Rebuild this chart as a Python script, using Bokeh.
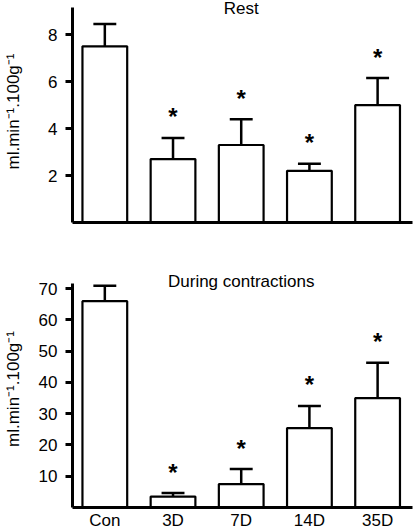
from bokeh.plotting import figure
from bokeh.models import Range1d, FixedTicker, Label
from bokeh.layouts import column
from bokeh.embed import file_html
from bokeh.resources import INLINE
from bokeh.core.properties import value

# ---- data ----
categories = ["Con", "3D", "7D", "14D", "35D"]

rest_mean = [7.5, 2.7, 3.3, 2.2, 5.0]
rest_sem = [0.95, 0.9, 1.1, 0.3, 1.15]
rest_sig = [False, True, True, True, True]
rest_ticks = [2, 4, 6, 8]

contr_mean = [66.0, 3.5, 7.5, 25.4, 35.0]
contr_sem = [4.9, 1.1, 4.8, 7.1, 11.3]
contr_sig = [False, True, True, True, True]
contr_ticks = [10, 20, 30, 40, 50, 60, 70]

y_label = "ml.min\u207b\u00b9.100g\u207b\u00b9"
FONT = "Liberation Sans"


def panel(title, means, sems, sig, ticks, y_axis_top, y_view_top, height,
          b_top, b_bottom, show_cats, ylab_standoff, title_offset):
    xs = list(range(len(categories)))
    p = figure(width=414, height=height,
               x_range=Range1d(-0.474, 4.541), y_range=Range1d(0, y_view_top),
               output_backend="svg", toolbar_location=None,
               min_border_left=70, min_border_right=0,
               min_border_top=b_top, min_border_bottom=b_bottom)
    p.xgrid.visible = False
    p.ygrid.visible = False
    p.outline_line_color = None
    p.background_fill_color = "white"
    p.border_fill_color = "white"

    tops = [m + s for m, s in zip(means, sems)]
    half_cap = 0.168
    p.vbar(x=xs, top=means, width=0.656, bottom=0,
           fill_color="white", line_color="black", line_width=2.2)
    p.segment(x0=xs, y0=means, x1=xs, y1=tops, line_color="black", line_width=2.5)
    p.segment(x0=[x - half_cap for x in xs], y0=tops,
              x1=[x + half_cap for x in xs], y1=tops,
              line_color="black", line_width=2.5)

    sx = [x for x, s in zip(xs, sig) if s]
    sy = [t for t, s in zip(tops, sig) if s]
    p.text(x=sx, y=sy, text=["*"] * len(sx), y_offset=-21,
           text_align="center", text_baseline="middle",
           text_font=value(FONT), text_font_size="24px",
           text_font_style="bold", text_color="black")

    p.add_layout(Label(x=2, y=y_axis_top, y_offset=title_offset, text=title,
                       text_align="center", text_baseline="middle",
                       text_font=FONT, text_font_size="17px",
                       text_color="black"))

    ya = p.yaxis[0]
    ya.bounds = (0, y_axis_top)
    ya.ticker = FixedTicker(ticks=ticks)
    ya.axis_line_width = 3
    ya.major_tick_line_width = 3
    ya.major_tick_out = 7
    ya.major_tick_in = 0
    ya.minor_tick_out = 0
    ya.minor_tick_in = 0
    ya.major_label_standoff = 8
    ya.major_label_text_font = FONT
    ya.major_label_text_font_size = "17px"
    ya.major_label_text_color = "black"
    ya.axis_label = y_label
    ya.axis_label_text_font = FONT
    ya.axis_label_text_font_size = "17px"
    ya.axis_label_text_font_style = "normal"
    ya.axis_label_text_color = "black"
    ya.axis_label_standoff = ylab_standoff

    xa = p.xaxis[0]
    xa.bounds = (-0.5, 4.51)
    xa.ticker = FixedTicker(ticks=xs if show_cats else [])
    xa.major_label_overrides = {i: c for i, c in enumerate(categories)}
    xa.axis_line_width = 3
    xa.major_tick_out = 0
    xa.major_tick_in = 0
    xa.minor_tick_out = 0
    xa.minor_tick_in = 0
    xa.major_label_standoff = 3
    xa.major_label_text_font = FONT
    xa.major_label_text_font_size = "17px"
    xa.major_label_text_color = "black"
    return p


p1 = panel("Rest", rest_mean, rest_sem, rest_sig, rest_ticks, 9.15, 9.45,
           262, 0, 40, False, 22, -1)
p2 = panel("During contractions", contr_mean, contr_sem, contr_sig, contr_ticks,
           71.6, 75.8, 270, 8, 25, True, 13, 2)

layout = column(p1, p2)
open("out.html", "w").write(file_html(layout, INLINE))
